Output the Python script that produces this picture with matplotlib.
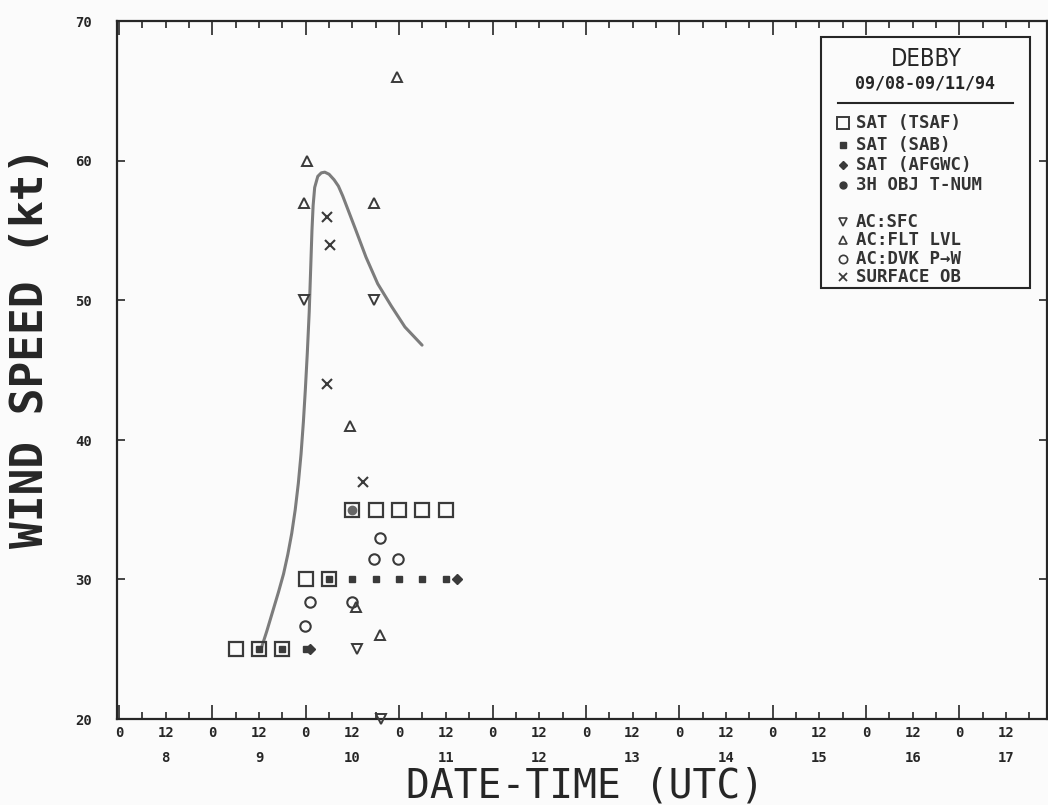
import matplotlib
matplotlib.use('Agg')
import matplotlib.pyplot as plt
from matplotlib.patches import Rectangle
from matplotlib.lines import Line2D
import numpy as np

# hours after 08/00 UTC, wind speed in kt

# best track
best_t = [36.5, 38.0, 39.5, 41.0, 42.3, 43.4, 44.4, 45.3, 46.1, 46.8, 47.4, 47.9,
          48.4, 48.9, 49.3, 49.6, 49.9, 50.3, 51.1, 52.0, 52.9, 54.0, 55.3, 56.4,
          57.5, 58.6, 60.8, 63.5, 66.5, 70.0, 73.5, 77.9]
best_v = [25.0, 26.3, 27.7, 29.1, 30.4, 31.8, 33.3, 35.0, 36.9, 39.0, 41.3, 43.6,
          46.2, 49.2, 52.5, 55.0, 56.8, 58.1, 58.9, 59.15, 59.2, 59.05, 58.65, 58.2,
          57.5, 56.7, 55.1, 53.1, 51.2, 49.6, 48.1, 46.8]

tsaf_t = [30, 36, 42, 48, 54, 60, 66, 72, 78, 84]
tsaf_v = [25, 25, 25, 30, 30, 35, 35, 35, 35, 35]
sab_t = [36, 42, 48, 54, 60, 66, 72, 78, 84]
sab_v = [25, 25, 25, 30, 30, 30, 30, 30, 30]
afgwc_t = [49.2, 87]
afgwc_v = [25, 30]
objt_t = [60]
objt_v = [35]
acsfc_t = [47.6, 65.6, 61.3, 67.4]
acsfc_v = [50, 50, 25, 20]
acflt_t = [71.4, 48.4, 47.6, 65.6, 59.5, 60.8, 67.2]
acflt_v = [66, 60, 57, 57, 41, 28, 26]
dvk_t = [67.0, 65.6, 71.6, 49.0, 47.9, 60.0]
dvk_v = [33, 31.5, 31.5, 28.4, 26.7, 28.4]
sfcob_t = [53.4, 54.2, 53.4, 62.7]
sfcob_v = [56, 54, 44, 37]

days = [8, 9, 10, 11, 12, 13, 14, 15, 16, 17]

leg_labels = ['SAT (TSAF)', 'SAT (SAB)', 'SAT (AFGWC)', '3H OBJ T-NUM',
              'AC:SFC', 'AC:FLT LVL', 'AC:DVK P\u2192W', 'SURFACE OB']

W, H = 1048, 805


def fx(x):
    return x / W


def fy(y):
    return 1 - y / H


bg = '#fbfbfb'
ink = '#262626'
mk = '#3a3a3a'
mono = 'DejaVu Sans Mono'

fig = plt.figure(figsize=(10.48, 8.05), dpi=100, facecolor=bg)
ax = fig.add_axes([fx(117), fy(719), fx(1047) - fx(117), fy(21.5) - fy(719)])
ax.set_facecolor(bg)

ax.plot(best_t, best_v, color='#7c7c7c', lw=2.2, solid_capstyle='round',
        solid_joinstyle='round', zorder=2)
ax.plot(tsaf_t, tsaf_v, ls='none', marker='s', ms=10, mfc='none', mec=mk, mew=1.6, zorder=3)
ax.plot(sab_t, sab_v, ls='none', marker='s', ms=4.5, color=mk, zorder=3)
ax.plot(afgwc_t, afgwc_v, ls='none', marker='D', ms=5, color=mk, zorder=3)
ax.plot(objt_t, objt_v, ls='none', marker='o', ms=6, color='#666666', zorder=3)
ax.plot(acsfc_t, acsfc_v, ls='none', marker='v', ms=7, mfc='none', mec=mk, mew=1.4,
        zorder=3, clip_on=False)
ax.plot(acflt_t, acflt_v, ls='none', marker='^', ms=7, mfc='none', mec=mk, mew=1.4, zorder=3)
ax.plot(dvk_t, dvk_v, ls='none', marker='o', ms=7.5, mfc='none', mec=mk, mew=1.5, zorder=3)
ax.plot(sfcob_t, sfcob_v, ls='none', marker='x', ms=7, color=mk, mew=1.5, zorder=3)

ax.set_xlim(-0.5, 238.5)
ax.set_ylim(20, 70)

# x axis: 0 / 12 hour labels, day under the 12
xt = np.arange(0, 229, 12)
xl = []
for h in xt:
    if h % 24 == 0:
        xl.append('0')
    else:
        xl.append('12\n' + str(days[h // 24]))
ax.set_xticks(xt)
ax.set_xticklabels(xl, fontfamily=mono, fontweight='bold', fontsize=10,
                   linespacing=2.0, color=ink)
ax.set_xticks(np.arange(0, 238, 6), minor=True)
ax.tick_params(axis='x', which='major', direction='in', length=10, width=1.2,
               top=True, pad=5, colors=ink)
ax.tick_params(axis='x', which='minor', direction='in', length=5, width=1.2,
               top=True, colors=ink)
for h, t in zip(xt, ax.xaxis.get_major_ticks()):
    if h % 24 != 0:
        t.tick1line.set_markersize(5)
        t.tick2line.set_markersize(5)

ax.set_yticks(np.arange(20, 71, 10))
ax.set_yticklabels([str(v) for v in range(20, 71, 10)], fontfamily=mono,
                   fontweight='bold', fontsize=10, color=ink)
ax.tick_params(axis='y', direction='in', length=6, width=1.2, right=True, pad=18,
               colors=ink)

for s in ax.spines.values():
    s.set_linewidth(1.6)
    s.set_color(ink)

fig.text(fx(31), fy(347), 'WIND SPEED (kt)', rotation=90, ha='center', va='center',
         fontfamily=mono, fontweight='bold', fontsize=32, color=ink)
fig.text(fx(585), fy(786), 'DATE-TIME (UTC)', ha='center', va='center',
         fontfamily=mono, fontsize=28.5, color=ink)

# legend box
fig.add_artist(Rectangle((fx(821), fy(288)), fx(1030) - fx(821), fy(37) - fy(288),
                         transform=fig.transFigure, fill=False, ec=ink, lw=1.5))
fig.text(fx(926), fy(59), 'DEBBY', ha='center', va='center', fontfamily='DejaVu Sans',
         fontstretch='condensed', fontsize=17, color=ink)
fig.text(fx(925), fy(84), '09/08-09/11/94', ha='center', va='center',
         fontfamily=mono, fontweight='bold', fontsize=12, color=ink)
fig.add_artist(Line2D([fx(838), fx(1013)], [fy(103.5), fy(103.5)],
                      transform=fig.transFigure, color=ink, lw=1.5))

leg_y = [123, 145, 165, 185, 222, 240, 259, 277]
leg_sym = [dict(marker='s', ms=9, mfc='none', mec=mk, mew=1.4),
           dict(marker='s', ms=4, color=mk),
           dict(marker='D', ms=4.5, color=mk),
           dict(marker='o', ms=5, color=mk),
           dict(marker='v', ms=6, mfc='none', mec=mk, mew=1.2),
           dict(marker='^', ms=6, mfc='none', mec=mk, mew=1.2),
           dict(marker='o', ms=6, mfc='none', mec=mk, mew=1.2),
           dict(marker='x', ms=6, color=mk, mew=1.3)]
for lab, y, sym in zip(leg_labels, leg_y, leg_sym):
    fig.add_artist(Line2D([fx(843)], [fy(y)], transform=fig.transFigure, ls='none', **sym))
    fig.text(fx(856), fy(y), lab, ha='left', va='center', fontfamily=mono,
             fontweight='bold', fontsize=12.5, color='#333333')

fig.savefig('out.png', dpi=100, facecolor=bg)
